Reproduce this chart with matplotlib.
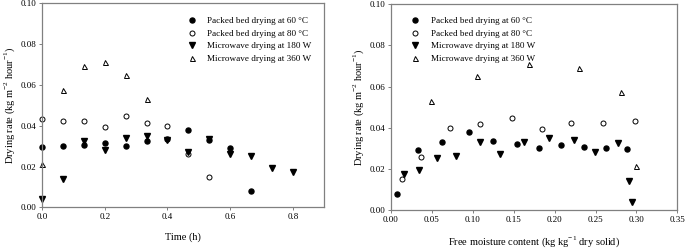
import numpy as np
import matplotlib
matplotlib.use('Agg')
import matplotlib.pyplot as plt

# drying rate vs time (h)
t_60 = [0.0, 1/15, 2/15, 0.2, 4/15, 1/3, 0.4, 7/15, 8/15, 0.6, 2/3]
r_60 = [0.0298, 0.0300, 0.0308, 0.0314, 0.0303, 0.0323, 0.0335, 0.0378, 0.0332, 0.0291, 0.0078]
t_80 = [0.0, 1/15, 2/15, 0.2, 4/15, 1/3, 0.4, 7/15, 8/15]
r_80 = [0.0434, 0.0424, 0.0421, 0.0396, 0.0448, 0.0416, 0.0398, 0.0260, 0.0151]
t_180 = [0.0, 1/15, 2/15, 0.2, 4/15, 1/3, 0.4, 7/15, 8/15, 0.6, 2/3, 11/15, 0.8]
r_180 = [0.0040, 0.0140, 0.0325, 0.0282, 0.0339, 0.0351, 0.0330, 0.0273, 0.0333, 0.0261, 0.0254, 0.0193, 0.0174]
t_360 = [0.0, 1/15, 2/15, 0.2, 4/15, 1/3]
r_360 = [0.0212, 0.0575, 0.0692, 0.0711, 0.0651, 0.0532]

# free moisture content at the same sampling times (kg/kg dry solid)
m_60 = [0.2883, 0.2623, 0.2355, 0.2083, 0.1807, 0.154, 0.125, 0.0954, 0.0621, 0.0329, 0.0069]
m_80 = [0.2977, 0.2587, 0.2205, 0.184, 0.1482, 0.1088, 0.0719, 0.0369, 0.0138]
m_180 = [0.2944, 0.2908, 0.2778, 0.249, 0.2233, 0.1937, 0.1624, 0.1332, 0.1088, 0.08, 0.0564, 0.0337, 0.0162]
m_360 = [0.2993, 0.281, 0.2299, 0.1685, 0.1056, 0.0483]

labels = ['Packed bed drying at 60 \u00b0C', 'Packed bed drying at 80 \u00b0C',
          'Microwave drying at 180 W', 'Microwave drying at 360 W']

plt.rcParams['font.family'] = 'Liberation Serif'
plt.rcParams['mathtext.fontset'] = 'custom'
plt.rcParams['mathtext.rm'] = 'Liberation Serif'
tick_fs = 6.5
leg_fs = 6.6
lab_fs = 7.5
ms = 3.6
spine_col = '#808080'

fig = plt.figure(figsize=(6.85, 2.49), dpi=100)
ax1 = fig.add_axes([0.0613, 0.1675, 0.412, 0.8185])
ax2 = fig.add_axes([0.5708, 0.1566, 0.418, 0.826])

def style(ax):
    for s in ax.spines.values():
        s.set_color(spine_col)
        s.set_linewidth(0.9)
    ax.tick_params('both', labelsize=tick_fs, direction='out', length=2, width=0.7,
                   color=spine_col, pad=2)
    ax.set_ylim(0, 0.10)
    ax.set_yticks([0.0, 0.02, 0.04, 0.06, 0.08, 0.10])
    ax.set_yticklabels(['0.00', '0.02', '0.04', '0.06', '0.08', '0.10'])
    ax.set_ylabel(r'Drying rate (kg m$^{-2}$ hour$^{-1}$)', fontsize=lab_fs, labelpad=3)

for ax, xs in [(ax1, (t_60, t_80, t_180, t_360)), (ax2, (m_60, m_80, m_180, m_360))]:
    ax.plot(xs[0], r_60, 'o', color='black', ms=ms, label=labels[0], clip_on=False)
    ax.plot(xs[1], r_80, 'o', mfc='white', mec='black', mew=0.7, ms=ms, label=labels[1], clip_on=False)
    ax.plot(xs[2], r_180, 'v', color='black', ms=ms + 0.4, label=labels[2], clip_on=False)
    ax.plot(xs[3], r_360, '^', mfc='white', mec='black', mew=0.7, ms=ms, label=labels[3], clip_on=False)
    style(ax)

ax1.set_xlim(0, 0.9)
ax1.set_xticks([0.0, 0.2, 0.4, 0.6, 0.8])
ax1.set_xticklabels(['0.0', '0.2', '0.4', '0.6', '0.8'])
ax1.set_xlabel('Time (h)', fontsize=lab_fs, labelpad=8)
ax1.legend(loc='upper left', bbox_to_anchor=(0.485, 0.97), frameon=False, fontsize=leg_fs,
           handletextpad=1.1, labelspacing=0.45, borderpad=0.3, handlelength=1.2)

ax2.set_xlim(0, 0.35)
ax2.set_xticks([0.0, 0.05, 0.10, 0.15, 0.20, 0.25, 0.30, 0.35])
ax2.set_xticklabels(['0.00', '0.05', '0.10', '0.15', '0.20', '0.25', '0.30', '0.35'])
ax2.set_xlabel(r'Free moisture content (kg kg$^{-1}$ dry solid)', fontsize=lab_fs, labelpad=8)
ax2.legend(loc='upper left', bbox_to_anchor=(0.04, 0.975), frameon=False, fontsize=leg_fs,
           handletextpad=1.1, labelspacing=0.45, borderpad=0.3, handlelength=1.2)

fig.savefig('out.png', dpi=100)
